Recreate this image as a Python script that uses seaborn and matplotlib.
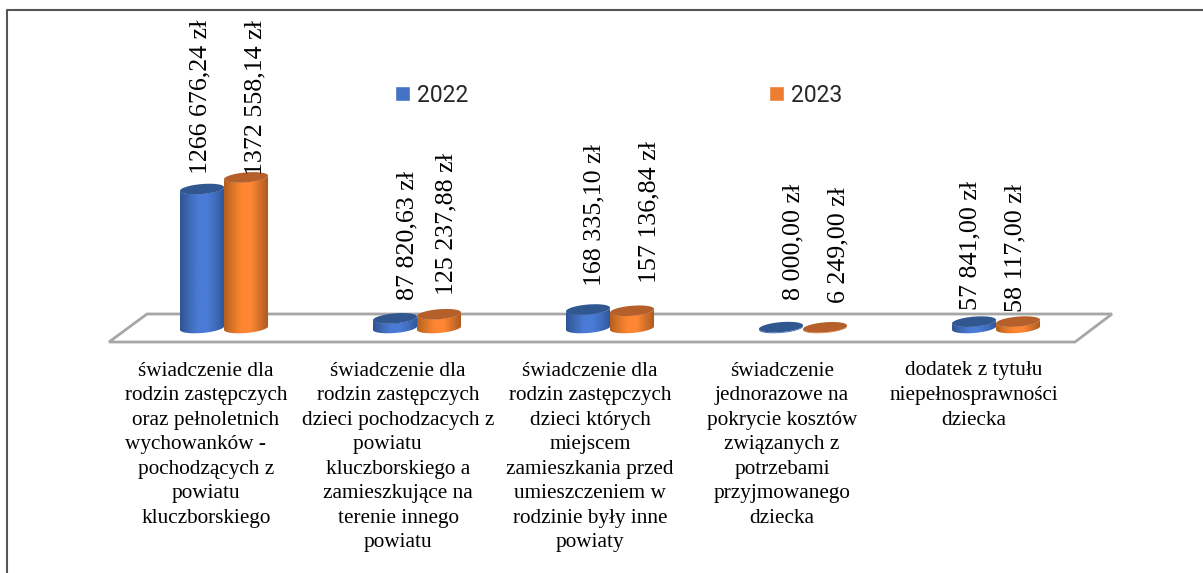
import numpy as np
import pandas as pd
import matplotlib
matplotlib.use('Agg')
import matplotlib.pyplot as plt
from matplotlib.colors import LinearSegmentedColormap
from matplotlib.patches import Polygon
import seaborn as sns

# --------------------------
# 1. Data
# --------------------------
categories = ['a', 'b', 'c', 'd', 'e']
years = ['2022', '2023']
values_2022 = [1266676.24, 87820.63, 168335.10, 8000.00, 57841.00]
values_2023 = [1372558.14, 125237.88, 157136.84, 6249.00, 58117.00]
labels_2022 = ['1266 676,24 zł', '87 820,63 zł', '168 335,10 zł', '8 000,00 zł', '57 841,00 zł']
labels_2023 = ['1372 558,14 zł', '125 237,88 zł', '157 136,84 zł', '6 249,00 zł', '58 117,00 zł']
category_labels = [
    'świadczenie dla\nrodzin zastępczych\noraz pełnoletnich\nwychowanków -    \npochodzących z\npowiatu\nkluczborskiego',
    'świadczenie dla\nrodzin zastępczych\ndzieci pochodzacych z\npowiatu    \nkluczborskiego a\nzamieszkujące na\nterenie innego\npowiatu',
    'świadczenie dla\nrodzin zastępczych\ndzieci których\nmiejscem\nzamieszkania przed\numieszczeniem w\nrodzinie były inne\npowiaty',
    'świadczenie\njednorazowe na\npokrycie kosztów\nzwiązanych z\npotrzebami\nprzyjmowanego\ndziecka',
    'dodatek z tytułu\nniepełnosprawności\ndziecka',
]

df = pd.DataFrame({
    'category': categories * 2,
    'year': [years[0]] * 5 + [years[1]] * 5,
    'value': values_2022 + values_2023,
})

# label offsets from the bar centre / top, in pixels
label_dx = [[-2, 12.5, 6, 12, -4], [9, 7.5, 17, 13, -3]]
label_gap = [[11, 14, 19, 23, 7.5], [-2, 15, 24, 20, 5.5]]

# --------------------------
# 2. Layout (pixels)
# --------------------------
W, H = 1203, 573
base_px = 328
x0_px = 224
cat_px = 193
px_per_unit = 1.097e-4

sns.set_theme(style='white')
fig = plt.figure(figsize=(W / 100, H / 100), dpi=100)
ax = fig.add_axes([0, 0, 1, 1])


def to_fig(x, y):
    return (x / W, 1 - y / H)


# --------------------------
# 3. Bars
# --------------------------
sns.barplot(data=df, x='category', y='value', hue='year', order=categories, hue_order=years,
            palette=['#4472C4', '#ED7D31'], saturation=1, width=0.456, gap=0, ax=ax, zorder=3)

ax.set_xlim(-x0_px / cat_px, (W - x0_px) / cat_px)
ax.set_ylim(-(H - base_px) / px_per_unit, base_px / px_per_unit)
ax.set_autoscale_on(False)
ax.axis('off')

# frame (left and top only) and floor
frame = [to_fig(7, H + 2), to_fig(7, 9.5), to_fig(W + 2, 9.5)]
ax.plot([p[0] for p in frame], [p[1] for p in frame], transform=ax.transAxes,
        color='#555555', lw=1.5, clip_on=False, zorder=1)
floor = [(109, 342), (147, 314), (1112, 314), (1075, 342)]
ax.add_patch(Polygon([to_fig(*p) for p in floor], closed=True, transform=ax.transAxes,
                     fc='white', ec='#A6A6A6', lw=2, zorder=2))

shades = [
    ['#2F5597', '#3E69B5', '#4A7BD6', '#4A7BD6', '#3F6CBC', '#2F5597'],
    ['#B2601F', '#DE7629', '#FF8733', '#FF8733', '#D4702A', '#A85A20'],
]
top_colors = ['#30578F', '#B5602A']

for h, container in enumerate(ax.containers):
    cmap = LinearSegmentedColormap.from_list('c', shades[h])
    for i, bar in enumerate(container):
        xa, xb = bar.get_x(), bar.get_x() + bar.get_width()
        top = bar.get_height()
        xc = (xa + xb) / 2
        a = (xb - xa) / 2
        b = 5 / px_per_unit
        rise = 1.8 / px_per_unit
        t = np.linspace(0, 2 * np.pi, 90)
        ex = a * np.cos(t)
        ey = b * np.sin(t) + rise * np.cos(t)
        t_low = np.linspace(np.pi, 2 * np.pi, 45)
        lx = xc + a * np.cos(t_low)
        ly = b * np.sin(t_low) + rise * np.cos(t_low)
        body = Polygon(np.r_[np.c_[lx, ly], np.c_[lx[::-1], ly[::-1] + top]], closed=True,
                       transform=ax.transData, fc='none', ec='none')
        ax.add_patch(body)
        bar.set_clip_path(body)
        # shading across the cylinder, clipped to its outline
        img = ax.imshow(np.linspace(0, 1, 64)[None, :], extent=(xa, xb, -2 * b, top + 2 * b),
                        aspect='auto', cmap=cmap, zorder=4, interpolation='bilinear')
        img.set_clip_path(body)
        ax.add_patch(Polygon(np.c_[xc + ex, top + ey], closed=True, fc=top_colors[h],
                             ec='none', zorder=5))

        txt = (labels_2022, labels_2023)[h][i]
        ax.annotate(txt, xy=(xc, top), xytext=(label_dx[h][i] * 0.72, label_gap[h][i] * 0.72 + 3),
                    textcoords='offset points', rotation=90, ha='center', va='bottom',
                    family='Liberation Serif', fontsize=18.7, color='black', zorder=6)

ax.set_xlim(-x0_px / cat_px, (W - x0_px) / cat_px)
ax.set_ylim(-(H - base_px) / px_per_unit, base_px / px_per_unit)

# --------------------------
# 4. Category labels and legend
# --------------------------
for i, lab in enumerate(category_labels):
    ax.text((206 + 192 * i) / W, 1 - 361.5 / H, lab, transform=ax.transAxes, ha='center', va='top',
            multialignment='center', family='Liberation Serif', fontsize=15.3,
            linespacing=1.395, color='black', zorder=6)

handles, leg_labels = ax.get_legend_handles_labels()
ax.legend(handles, leg_labels, ncol=2, loc='center', bbox_to_anchor=to_fig(618.5, 95),
          bbox_transform=ax.transAxes, frameon=False, handlelength=0.65, handleheight=0.65,
          handletextpad=0.3, columnspacing=13.15, prop={'family': 'Roboto', 'size': 16.5})

plt.savefig('out.png', dpi=100)
